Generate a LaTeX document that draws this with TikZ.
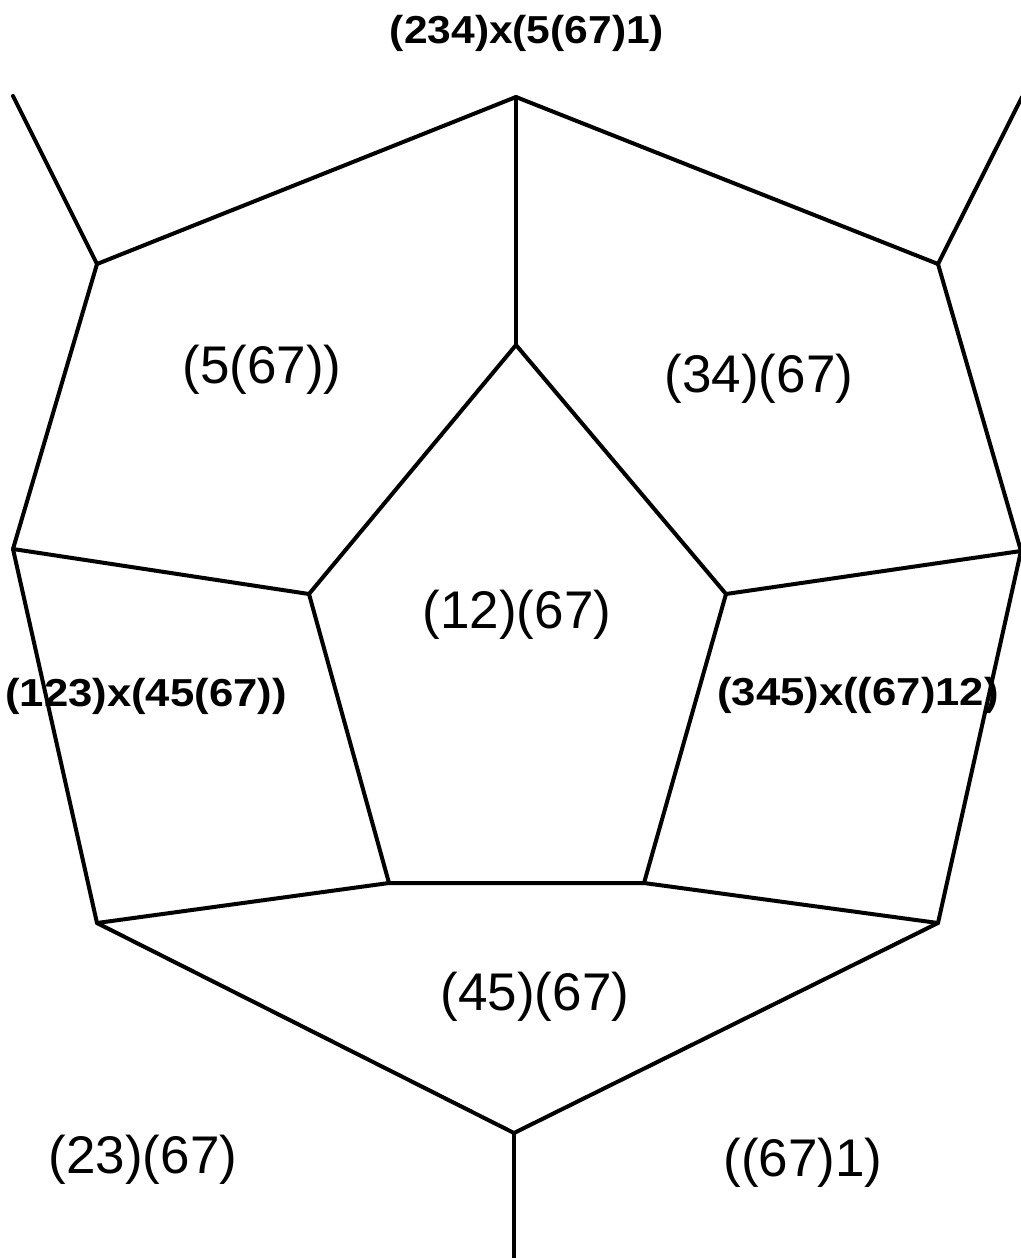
\documentclass[tikz,border=0pt]{standalone}
\usepackage{fontspec}
\setmainfont{Liberation Sans}
\begin{document}
\begin{tikzpicture}[x=1pt,y=-1pt,
  edge/.style={line width=4pt,line cap=round,line join=round},
  biglabel/.style={inner sep=0pt,anchor=base,font=\fontsize{53}{60}\selectfont},
  boldlabel/.style={inner sep=0pt,anchor=base,font=\bfseries\fontsize{39}{44}\selectfont}]
\useasboundingbox (0,0) rectangle (1020,1258);
% vertices
\coordinate (T) at (516,97);
\coordinate (I) at (516,345);
\coordinate (A) at (97,264);
\coordinate (B) at (938,264);
\coordinate (TL) at (13,96);
\coordinate (TR) at (1022,97);
\coordinate (L) at (13,549);
\coordinate (R) at (1021,551);
\coordinate (IL) at (309,594);
\coordinate (IR) at (726,594);
\coordinate (IBL) at (389,883);
\coordinate (IBR) at (644,883);
\coordinate (BL) at (97,923);
\coordinate (BR) at (938,923);
\coordinate (BV) at (514,1133);
\coordinate (BB) at (514,1262);
% edges
\draw[edge] (TL) -- (A) -- (T) -- (B) -- (TR);
\draw[edge] (T) -- (I);
\draw[edge] (IL) -- (I) -- (IR);
\draw[edge] (A) -- (L) -- (BL) -- (BV) -- (BR) -- (R) -- (B);
\draw[edge] (L) -- (IL) -- (IBL) -- (IBR) -- (IR) -- (R);
\draw[edge] (BL) -- (IBL);
\draw[edge] (BR) -- (IBR);
\draw[edge] (BV) -- (BB);
% labels
\node[boldlabel] (ltop) at (527,43) {\scalebox{1.09}[1]{(234)x(5(67)1)}};
\node[biglabel] (l567) at (262,383) {(5(67))};
\node[biglabel] (l3467) at (759,392) {(34)(67)};
\node[biglabel] (l1267) at (517,628) {(12)(67)};
\node[boldlabel] (lleft) at (146,706) {\scalebox{1.12}[1]{(123)x(45(67))}};
\node[boldlabel] (lright) at (858,705) {\scalebox{1.12}[1]{(345)x((67)12)}};
\node[biglabel] (l4567) at (535,1010) {(45)(67)};
\node[biglabel] (l2367) at (143,1173) {(23)(67)};
\node[biglabel] (l671) at (803,1176) {((67)1)};
\end{tikzpicture}
\end{document}
